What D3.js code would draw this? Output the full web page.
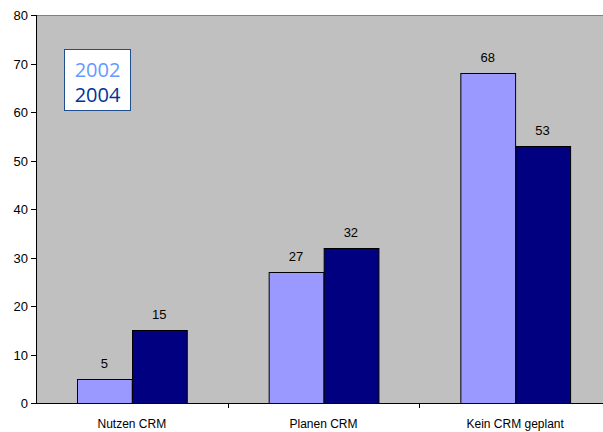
<!DOCTYPE html>
<html lang="de">
<head>
<meta charset="utf-8">
<title>CRM 2002 / 2004</title>
<script src="https://d3js.org/d3.v7.min.js"></script>
<style>
  * { margin: 0; padding: 0; }
  body { background: #fff; overflow: hidden; font-family: "Liberation Sans", Arial, sans-serif; }
  svg { display: block; }
  .tick-label { font-size: 13px; fill: #000; }
  .cat-label { font-size: 12px; fill: #000; }
  .val-label { font-size: 13px; fill: #000; }
</style>
</head>
<body>
<svg id="chart" width="603" height="432"></svg>
<script>
const categories = ["Nutzen CRM", "Planen CRM", "Kein CRM geplant"];
const years = ["2002", "2004"];
const values2002 = [5, 27, 68];
const values2004 = [15, 32, 53];
const yTicks = [0, 10, 20, 30, 40, 50, 60, 70, 80];

const barColors = { "2002": "#9999ff", "2004": "#000080" };
const legendColors = { "2002": "#6699ff", "2004": "#003399" };

const plotL = 36, plotR = 611, plotT = 15, plotB = 403;

const svg = d3.select("#chart");

const x = d3.scaleBand().domain(categories).range([plotL, plotR]);
const xInner = d3.scaleBand().domain(years).range([0, x.bandwidth()]).paddingOuter(0.75).paddingInner(0);
const y = d3.scaleLinear().domain([0, 80]).range([plotB, plotT]);

// plot background
svg.append("rect")
  .attr("x", plotL).attr("y", plotT)
  .attr("width", plotR - plotL).attr("height", plotB - plotT)
  .attr("fill", "#c0c0c0");
svg.append("line")
  .attr("x1", plotL).attr("x2", plotR).attr("y1", plotT + 0.5).attr("y2", plotT + 0.5)
  .attr("stroke", "#808080");

// bars
const rows = categories.map((c, i) => ({ cat: c, vals: [
  { year: "2002", v: values2002[i] },
  { year: "2004", v: values2004[i] }
]}));

const grp = svg.append("g").selectAll("g")
  .data(rows).join("g")
  .attr("transform", d => `translate(${x(d.cat)},0)`);

grp.selectAll("rect")
  .data(d => d.vals).join("rect")
  .attr("x", d => Math.round(xInner(d.year)) + 0.5)
  .attr("y", d => Math.round(y(d.v)) + 0.5)
  .attr("width", xInner.bandwidth())
  .attr("height", d => plotB - Math.round(y(d.v)))
  .attr("fill", d => barColors[d.year])
  .attr("stroke", "#000")
  .attr("stroke-width", 1);

grp.selectAll("text")
  .data(d => d.vals).join("text")
  .attr("class", "val-label")
  .attr("x", d => xInner(d.year) + xInner.bandwidth() / 2)
  .attr("y", d => y(d.v) - 11)
  .attr("text-anchor", "middle")
  .text(d => d.v);

// y axis
const yAxis = svg.append("g");
yAxis.append("line")
  .attr("x1", plotL + 0.5).attr("x2", plotL + 0.5).attr("y1", plotT).attr("y2", plotB)
  .attr("stroke", "#000");
yAxis.selectAll("line.t").data(yTicks).join("line")
  .attr("class", "t")
  .attr("x1", plotL - 5).attr("x2", plotL)
  .attr("y1", d => Math.round(y(d)) + 0.5).attr("y2", d => Math.round(y(d)) + 0.5)
  .attr("stroke", "#000");
yAxis.selectAll("text").data(yTicks).join("text")
  .attr("class", "tick-label")
  .attr("x", plotL - 8)
  .attr("y", d => y(d) + 5)
  .attr("text-anchor", "end")
  .text(d => d);

// x axis
const xAxis = svg.append("g");
xAxis.append("line")
  .attr("x1", plotL).attr("x2", plotR).attr("y1", plotB + 0.5).attr("y2", plotB + 0.5)
  .attr("stroke", "#000");
xAxis.selectAll("line.t").data(categories.slice(1)).join("line")
  .attr("class", "t")
  .attr("x1", d => Math.round(x(d)) + 0.5).attr("x2", d => Math.round(x(d)) + 0.5)
  .attr("y1", plotB).attr("y2", plotB + 5)
  .attr("stroke", "#000");
xAxis.selectAll("text").data(categories).join("text")
  .attr("class", "cat-label")
  .attr("x", d => x(d) + x.bandwidth() / 2)
  .attr("y", 428)
  .attr("text-anchor", "middle")
  .text(d => d);

// legend
const lg = svg.append("g");
lg.append("rect")
  .attr("x", 64.5).attr("y", 49.5).attr("width", 66).attr("height", 61)
  .attr("fill", "#fff").attr("stroke", "#1f4e8c").attr("stroke-width", 1);
lg.selectAll("text").data(years).join("text")
  .attr("x", 97.5)
  .attr("y", (d, i) => 77 + i * 25)
  .attr("text-anchor", "middle")
  .attr("font-family", "'Open Sans', 'DejaVu Sans', sans-serif")
  .attr("font-size", "20px")
  .attr("fill", d => legendColors[d])
  .text(d => d);
</script>
</body>
</html>
